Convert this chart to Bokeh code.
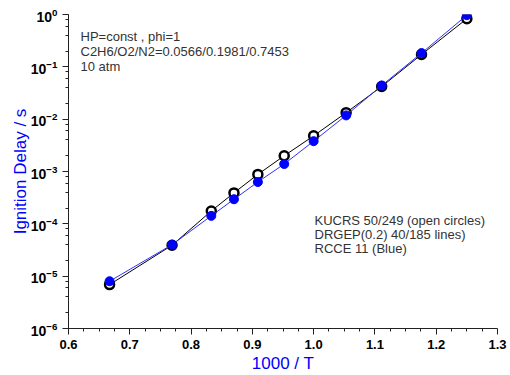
from bokeh.plotting import figure
from bokeh.embed import file_html
from bokeh.resources import INLINE
from bokeh.models import Label, FixedTicker, LogTicker

# data
inv_T = [0.667, 0.769, 0.833, 0.870, 0.909, 0.952, 1.000, 1.053, 1.111, 1.176, 1.250]
kucrs_delay = [6.9e-6, 3.9e-5, 1.76e-4, 3.9e-4, 8.8e-4, 2.0e-3, 4.8e-3, 1.33e-2, 4.2e-2, 0.172, 0.83]
rcce_delay = [8.0e-6, 4.0e-5, 1.42e-4, 2.95e-4, 6.3e-4, 1.39e-3, 3.8e-3, 1.18e-2, 4.4e-2, 0.183, 0.97]
x_ticks = [0.6, 0.7, 0.8, 0.9, 1.0, 1.1, 1.2, 1.3]
x_minor_ticks = [0.625, 0.65, 0.675, 0.725, 0.75, 0.775, 0.825, 0.85, 0.875, 0.925, 0.95, 0.975,
                 1.025, 1.05, 1.075, 1.125, 1.15, 1.175, 1.225, 1.25, 1.275]
x_tick_labels = {0.6: "0.6", 0.7: "0.7", 0.8: "0.8", 0.9: "0.9", 1.0: "1.0", 1.1: "1.1", 1.2: "1.2", 1.3: "1.3"}
info_lines = ["HP=const , phi=1", "C2H6/O2/N2=0.0566/0.1981/0.7453", "10 atm"]
legend_lines = ["KUCRS 50/249 (open circles)", "DRGEP(0.2) 40/185 lines)", "RCCE 11 (Blue)"]

FONT = "Liberation Sans"
W, H = 510, 375
LEFT, RIGHT, TOP, BOTTOM = 68, 13, 14, 47

p = figure(width=W, height=H, output_backend="svg", toolbar_location=None,
           x_range=(0.6, 1.3), y_range=(1e-6, 1.0), y_axis_type="log",
           min_border_left=LEFT, min_border_right=RIGHT, min_border_top=TOP, min_border_bottom=BOTTOM)
p.outline_line_color = None
p.grid.visible = False
p.background_fill_color = "white"
p.border_fill_color = "white"

p.xaxis.ticker = FixedTicker(ticks=x_ticks, minor_ticks=x_minor_ticks)
p.xaxis.major_label_overrides = x_tick_labels
for ax in (p.xaxis[0], p.yaxis[0]):
    ax.axis_line_color = "#222222"
    ax.major_tick_line_color = "#222222"
    ax.minor_tick_line_color = "#222222"
    ax.major_tick_out = 6
    ax.major_tick_in = 0
    ax.minor_tick_out = 3
    ax.minor_tick_in = 0
    ax.major_label_text_font = FONT
    ax.major_label_text_font_style = "bold"
    ax.major_label_text_font_size = "13px"
    ax.major_label_text_color = "black"
    ax.axis_label_text_font = FONT
    ax.axis_label_text_font_style = "normal"
    ax.axis_label_text_color = "#0000ff"

p.yaxis.ticker = LogTicker(num_minor_ticks=5)
p.yaxis.major_label_text_font_size = "14px"
p.xaxis.axis_label = "1000 / T"
p.xaxis.axis_label_text_font_size = "17px"
p.xaxis.axis_label_standoff = 2
p.yaxis.axis_label = "Ignition Delay / s"
p.yaxis.axis_label_text_font_size = "17px"
p.yaxis.axis_label_standoff = -2

p.line(inv_T, kucrs_delay, line_color="black", line_width=1)
p.scatter(inv_T, kucrs_delay, marker="circle", size=9, fill_color="white",
          line_color="black", line_width=2.5)
p.line(inv_T, rcce_delay, line_color="#3030ff", line_width=1)
p.scatter(inv_T, rcce_delay, marker="circle", size=9, fill_color="#0000ff",
          line_color="#0000ff", line_width=1)

frame_bottom = H - BOTTOM  # canvas y of frame bottom
for i, t in enumerate(info_lines):
    p.add_layout(Label(x=80 - LEFT, y=frame_bottom - (28 + 15 * i), x_units="screen", y_units="screen",
                       text=t, text_font=FONT, text_font_size="13px",
                       text_color="#333333", text_baseline="top"))
for i, t in enumerate(legend_lines):
    p.add_layout(Label(x=314 - LEFT, y=frame_bottom - (212 + 14 * i), x_units="screen", y_units="screen",
                       text=t, text_font=FONT, text_font_size="13px",
                       text_color="#333333", text_baseline="top"))

open("out.html", "w").write(file_html(p, INLINE))
